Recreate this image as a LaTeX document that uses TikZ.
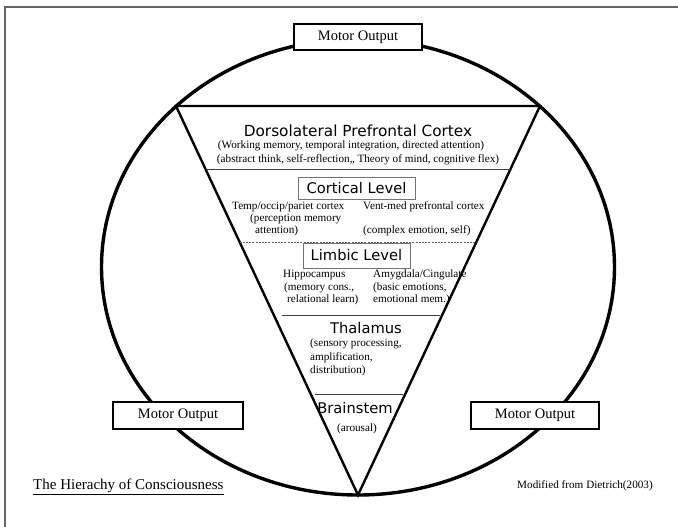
\documentclass[tikz,border=0pt]{standalone}
\usepackage{fontspec}
\setmainfont{Liberation Serif}
\newfontfamily\hsans{DejaVu Sans}
\usetikzlibrary{calc}
\begin{document}
\begin{tikzpicture}[x=1pt,y=-1pt,
  motorbox/.style={draw=black,line width=2pt,fill=white,minimum width=128pt,minimum height=26pt,inner sep=0pt,font=\fontsize{14.5}{16}\selectfont},
  levelbox/.style={draw=black!55,line width=0.9pt,fill=white,inner sep=0pt,font=\hsans\fontsize{14.7}{16}\selectfont},
  header/.style={inner sep=0pt,font=\hsans\fontsize{14.7}{16}\selectfont},
  small/.style={inner sep=0pt,font=\fontsize{11.2}{12}\selectfont},
  sep/.style={draw=black!75,line width=1pt},
  dsep/.style={draw=black!60,line width=0.8pt,dash pattern=on 2pt off 1.2pt}]
\useasboundingbox (0,0) rectangle (678,527);
\fill[white] (0,0) rectangle (678,527);
% frame
\draw[black!60,line width=2pt] (5,540) -- (5,7) -- (690,7);
% outer ellipse
\draw[line width=3.4pt] (358,267) ellipse [x radius=256.5, y radius=228];
% triangle
\coordinate (TL) at (176,106);
\coordinate (TR) at (540,106);
\coordinate (A) at (358,495);
\draw[line width=2.4pt,line join=miter] (TL) -- (TR) -- (A) -- cycle;
% separators
\coordinate (s1l) at ($(TL)!{(170-106)/389}!(A)$);
\coordinate (s1r) at ($(TR)!{(170-106)/389}!(A)$);
\coordinate (s2l) at ($(TL)!{(242-106)/389}!(A)$);
\coordinate (s2r) at ($(TR)!{(242-106)/389}!(A)$);
\coordinate (s3l) at ($(TL)!{(316-106)/389}!(A)$);
\coordinate (s3r) at ($(TR)!{(316-106)/389}!(A)$);
\coordinate (s4l) at ($(TL)!{(395-106)/389}!(A)$);
\coordinate (s4r) at ($(TR)!{(395-106)/389}!(A)$);
\draw[sep] (s1l) -- (s1r);
\draw[dsep] (s2l) -- (s2r);
\draw[sep] ($(s3l)+(8,0)$) -- ($(s3r)+(-2,0)$);
\draw[sep] ($(s4l)+(4,0)$) -- ($(s4r)+(-2,0)$);
% Dorsolateral
\node[header,font=\hsans\fontsize{15.3}{16}\selectfont] (dlpfc) at (358,131) {Dorsolateral Prefrontal Cortex};
\node[small] (dl1) at (351,146) {(Working memory, temporal integration, directed attention)};
\node[small] (dl2) at (358,160) {(abstract think, self-reflection,, Theory of mind, cognitive flex)};
% Cortical
\node[levelbox,minimum width=117pt,minimum height=22pt] (cort) at (356.5,188) {Cortical Level};
\node[small,anchor=west] (c1) at (232,207) {Temp/occip/pariet cortex};
\node[small,anchor=west] (c2) at (250,219) {(perception memory};
\node[small,anchor=west] (c3) at (255,231) {attention)};
\node[small,anchor=west] (c4) at (363,207) {Vent-med prefrontal cortex};
\node[small,anchor=west] (c5) at (363,231) {(complex emotion, self)};
% Limbic
\node[levelbox,minimum width=107pt,minimum height=25pt] (limb) at (356.5,255.5) {Limbic Level};
\node[small,anchor=west] (l1) at (283,275) {Hippocampus};
\node[small,anchor=west] (l2) at (284,287.5) {(memory cons.,};
\node[small,anchor=west] (l3) at (287,300) {relational learn)};
\node[small,anchor=west] (l4) at (373,275) {Amygdala/Cingulate};
\node[small,anchor=west] (l5) at (373,287.5) {(basic emotions,};
\node[small,anchor=west] (l6) at (373,300) {emotional mem.)};
% Thalamus
\node[header] (thal) at (366,328) {Thalamus};
\node[small,anchor=west] (t1) at (310,344) {(sensory processing,};
\node[small,anchor=west] (t2) at (310,358) {amplification,};
\node[small,anchor=west] (t3) at (310,371) {distribution)};
% Brainstem
\node[header] (brain) at (355,408) {Brainstem};
\node[small] (b1) at (357,429) {(arousal)};
% Motor outputs
\node[motorbox] (mtop) at (358,37) {Motor Output};
\node[motorbox,minimum width=130pt,minimum height=27pt] (mleft) at (178,415.5) {Motor Output};
\node[motorbox,minimum width=128pt,minimum height=27pt] (mright) at (535,415.5) {Motor Output};
% captions
\node[inner sep=0pt,anchor=west,font=\fontsize{15}{16}\selectfont] (title) at (33,487) {\underline{The Hierachy of Consciousness}};
\node[inner sep=0pt,anchor=west,font=\fontsize{11.2}{12}\selectfont] (src) at (517,486) {Modified from Dietrich(2003)};
\end{tikzpicture}
\end{document}
